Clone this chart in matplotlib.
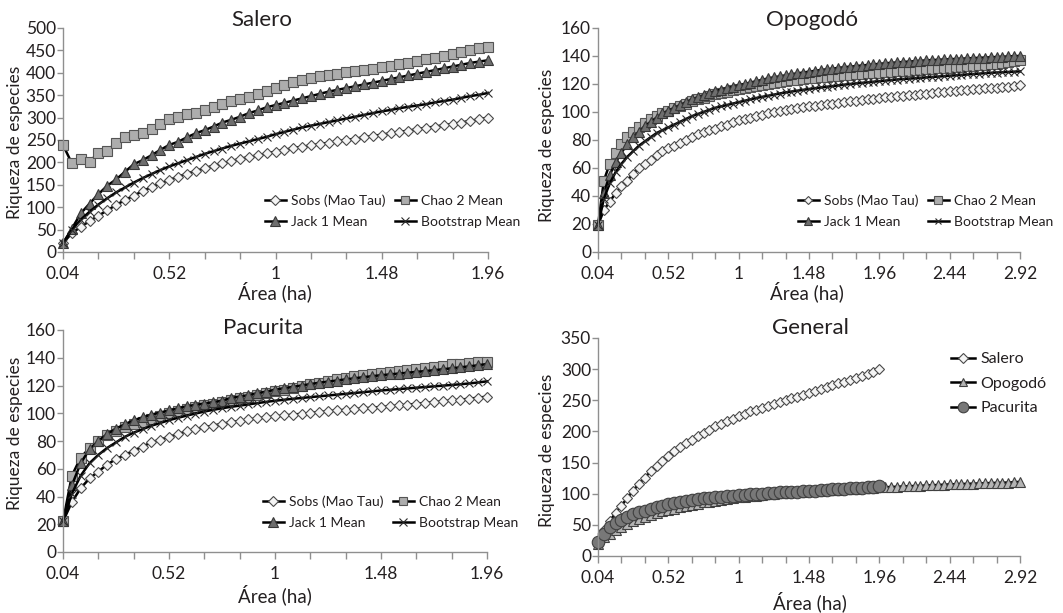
import numpy as np
import matplotlib
matplotlib.use("Agg")
import matplotlib.pyplot as plt

plt.rcParams['font.family'] = ['Lato', 'DejaVu Sans']
plt.rcParams['text.color'] = '#231f20'

# ---- data (species richness vs sampled area) ----
xlab_short = ["0.04", "0.52", "1", "1.48", "1.96"]
xlab_long = ["0.04", "0.52", "1", "1.48", "1.96", "2.44", "2.92"]

salero_sobs = [20, 42, 56, 69, 81, 93, 105, 116, 126, 136, 145, 153, 161, 168, 175, 181, 187,
               193, 198, 203, 208, 212, 216, 220, 224, 228, 232, 235, 238, 241, 244, 247, 250,
               253, 256, 259, 262, 265, 268, 271, 274, 277, 280, 283, 286, 289, 293, 296, 300]
salero_chao = [239, 198, 207, 201, 222, 226, 244, 256, 261, 266, 274, 285, 296, 302, 307, 311,
               317, 323, 330, 336, 341, 346, 352, 360, 367, 373, 379, 384, 389, 392, 395, 398,
               401, 404, 406, 408, 412, 415, 419, 422, 426, 430, 434, 438, 442, 447, 452, 455, 458]
salero_jack = [19, 52, 86, 108, 129, 148, 162, 179, 196, 205, 216, 228, 239, 246, 256, 265, 272,
               280, 289, 295, 302, 310, 316, 323, 328, 333, 338, 343, 348, 353, 358, 362, 366,
               370, 374, 378, 382, 386, 390, 394, 398, 402, 406, 410, 414, 418, 422, 425, 428]
salero_boot = [20, 50, 72, 90, 106, 120, 133, 144, 155, 165, 174, 183, 191, 198, 205, 212, 219,
               225, 231, 237, 242, 247, 252, 257, 263, 268, 273, 278, 282, 286, 290, 294, 298,
               302, 306, 310, 314, 317, 321, 324, 327, 330, 334, 337, 340, 344, 348, 351, 355]

opo_sobs = [19, 30, 36, 42, 47, 51, 56, 60, 63, 66, 69, 72, 74, 76, 78, 80, 82, 84, 86, 87,
            88, 90, 91, 93, 94, 95, 96, 97, 98, 99, 100, 101, 101.5, 102, 103, 103.5, 104,
            104.5, 105, 105.5, 106, 106.5, 107, 107.5, 108, 108.5, 109, 109.5, 110, 110.4,
            110.8, 111.2, 111.6, 112, 112.4, 112.8, 113.2, 113.6, 114, 114.5, 115, 115.3,
            115.6, 115.9, 116.2, 116.5, 116.8, 117.1, 117.4, 117.7, 118, 118.5, 119]
opo_chao = [19, 51, 63, 71, 77, 82, 86, 89, 92, 95, 97, 99, 101, 103, 104.5, 106, 107.5, 109,
            110, 111.5, 112.5, 113.5, 114.5, 115.5, 116.5, 117.3, 118, 118.8, 119.5, 120.2,
            120.8, 121.4, 122, 122.5, 123, 123.5, 124, 124.4, 124.8, 125.2, 125.6, 126, 126.3,
            126.6, 126.9, 127.2, 127.5, 127.8, 128.1, 128.4, 128.7, 129, 129.3, 129.6, 129.9,
            130.2, 130.5, 130.8, 131.1, 131.4, 131.7, 132, 132.3, 132.6, 132.9, 133.3, 133.7,
            134.1, 134.5, 135, 135.5, 136.2, 137]
opo_jack = [19, 42, 55, 64, 71, 77, 82, 86, 90, 93, 96, 99, 101, 103, 105, 107, 109, 110.5,
            112, 113.5, 115, 116, 117, 118, 119, 120, 121, 122, 123, 124, 124.8, 125.5, 126.2,
            127, 127.6, 128.2, 128.8, 129.4, 130, 130.5, 131, 131.5, 132, 132.4, 132.8, 133.2,
            133.6, 134, 134.4, 134.8, 135.1, 135.4, 135.7, 136, 136.3, 136.6, 136.9, 137.1,
            137.3, 137.5, 137.7, 137.9, 138.1, 138.3, 138.5, 138.7, 138.9, 139.1, 139.3, 139.5,
            139.7, 139.9, 140]
opo_boot = [19, 38, 49, 57, 63, 68, 72, 76, 79, 82, 85, 87, 89, 91, 93, 95, 97, 98.5, 100,
            101.5, 103, 104, 105, 106, 107, 108, 109, 110, 110.8, 111.6, 112.4, 113.2, 114,
            114.6, 115.2, 115.8, 116.4, 117, 117.5, 118, 118.5, 119, 119.5, 120, 120.4, 120.8,
            121.2, 121.6, 122, 122.4, 122.8, 123.2, 123.5, 123.8, 124.1, 124.4, 124.7, 125,
            125.3, 125.6, 125.9, 126.2, 126.5, 126.8, 127.1, 127.4, 127.7, 128, 128.2, 128.4,
            128.6, 128.8, 129]

pac_sobs = [22, 36, 46, 53, 58, 63, 67, 70, 73, 76, 79, 81, 83, 85, 87, 88.5, 90, 91, 92.5,
            93.5, 94.5, 95.5, 96.3, 97, 97.7, 98.4, 99, 99.6, 100.2, 100.8, 101.4, 102, 102.5,
            103, 103.5, 104, 104.5, 105, 105.6, 106.2, 106.8, 107.4, 108, 108.6, 109.2, 109.8,
            110.5, 111.2, 112]
pac_chao = [22, 55, 68, 75, 80, 84, 87, 90, 92, 94, 96, 98, 100, 101.5, 103, 104.5, 106, 107,
            108, 109.5, 111, 112, 113, 114.5, 116, 117, 118, 119.5, 121, 122, 123, 124.5, 125.5,
            126.5, 127.3, 128, 128.8, 129.6, 130.4, 131.2, 132, 132.8, 133.6, 134.4, 135.2,
            135.8, 136.3, 136.7, 137]
pac_jack = [22, 48, 64, 74, 80, 85, 89, 92, 95, 97, 99, 100.5, 102, 103.5, 105, 106, 107, 108,
            109, 111, 112, 113, 114.5, 115.5, 117, 118, 119, 120, 121, 122, 122.8, 123.6, 124.4,
            125.2, 126, 126.7, 127.4, 128, 128.6, 129.2, 129.8, 130.4, 131, 131.7, 132.4, 133.1,
            133.8, 134.6, 135.5]
pac_boot = [22, 42, 55, 64, 70, 75, 79, 83, 86, 88.5, 91, 93, 95, 96.7, 98.3, 99.8, 101.2,
            102.5, 103.6, 104.6, 105.5, 106.4, 107.3, 108.2, 109, 109.7, 110.4, 111, 111.6,
            112.2, 112.8, 113.4, 114, 114.6, 115.2, 115.8, 116.4, 116.9, 117.4, 117.9, 118.4,
            118.9, 119.4, 119.9, 120.4, 120.9, 121.5, 122.2, 123]

W, H = 1063, 613
fig = plt.figure(figsize=(W / 100, H / 100), dpi=100)


def px(x, y):
    return x / W, 1 - y / H


def make_ax(l, t, r, b):
    return fig.add_axes([l / W, 1 - b / H, (r - l) / W, (b - t) / H])


def style(ax, n, ymax, ystep, labels):
    ax.set_xlim(0, n - 1)
    ax.set_ylim(0, ymax)
    ax.set_yticks(np.arange(0, ymax + 1, ystep))
    ticks = np.arange(0, n, 4)
    ax.set_xticks(ticks)
    ax.set_xticklabels([labels[t // 12] if t % 12 == 0 else "" for t in ticks])
    for s in ("top", "right"):
        ax.spines[s].set_visible(False)
    for s in ("left", "bottom"):
        ax.spines[s].set_color("#8f8f8f")
        ax.spines[s].set_linewidth(1.0)
    ax.tick_params(axis="x", direction="out", length=5, width=1, color="#8f8f8f",
                   labelsize=12.5, pad=5, labelcolor="#231f20")
    ax.tick_params(axis="y", direction="out", length=4, width=1, color="#8f8f8f",
                   labelsize=12.5, pad=1, labelcolor="#231f20")
    ax.patch.set_alpha(0)


def four_series(ax, sobs, chao, jack, boot, scale=1.0):
    x = np.arange(len(sobs))
    kw = dict(color="black", lw=1.8, clip_on=False)
    ax.plot(x, sobs, marker="D", ms=5.4 * scale, mfc="#f4f4f4", mec="#4a4a4a", mew=0.8,
            label="Sobs (Mao Tau)", **kw)
    ax.plot(x, chao, marker="s", ms=7.4 * scale, mfc="#adadad", mec="#555555", mew=0.8,
            label="Chao 2 Mean", **kw)
    ax.plot(x, jack, marker="^", ms=7.8 * scale, mfc="#6e6e6e", mec="#383838", mew=0.8,
            label="Jack 1 Mean", **kw)
    ax.plot(x, boot, marker="x", ms=6.2 * scale, mec="#2b2b2b", mew=0.8,
            label="Bootstrap Mean", **kw)
    h, l = ax.get_legend_handles_labels()
    return [h[0], h[2], h[1], h[3]], [l[0], l[2], l[1], l[3]]


def add_legend(ax, handles, labels, x, y, ncol=2, fs=10):
    ax.legend(handles, labels, ncol=ncol, loc="upper left", bbox_to_anchor=px(x, y),
              bbox_transform=fig.transFigure, frameon=False, fontsize=fs, borderpad=0,
              handlelength=1.5, handletextpad=0.35, columnspacing=0.7, labelspacing=0.65,
              borderaxespad=0, markerscale=0.85)


def labels(title, tx, ty, xlx, xly, ylx, yly):
    fig.text(*px(tx, ty), title, ha="center", va="center", fontsize=16)
    fig.text(*px(xlx, xly), "Área (ha)", ha="center", va="center", fontsize=13.5)
    fig.text(*px(ylx, yly), "Riqueza de especies", ha="center", va="center",
             rotation=90, fontsize=12.5)


# Salero
ax1 = make_ax(63, 28, 488, 252)
h, l = four_series(ax1, salero_sobs, salero_chao, salero_jack, salero_boot)
style(ax1, len(salero_sobs), 500, 50, xlab_short)
add_legend(ax1, h, l, 265, 194)
labels("Salero", 262, 20, 275, 292, 15, 142)

# Opogodó
ax2 = make_ax(598, 28, 1020, 252)
h, l = four_series(ax2, opo_sobs, opo_chao, opo_jack, opo_boot, scale=0.9)
style(ax2, len(opo_sobs), 160, 20, xlab_long)
add_legend(ax2, h, l, 798, 194)
labels("Opogodó", 812, 20, 807, 292, 547, 145)

# Pacurita
ax3 = make_ax(63, 330, 487, 552)
h, l = four_series(ax3, pac_sobs, pac_chao, pac_jack, pac_boot)
style(ax3, len(pac_sobs), 160, 20, xlab_short)
add_legend(ax3, h, l, 263, 495)
labels("Pacurita", 263, 328, 275, 595, 15, 433)

# General
ax4 = make_ax(598, 338, 1020, 556)
kw = dict(color="black", lw=1.8, clip_on=False)
ax4.plot(np.arange(len(salero_sobs)), salero_sobs, marker="D", ms=5.6, mfc="#f4f4f4",
         mec="#4a4a4a", mew=0.8, label="Salero", **kw)
ax4.plot(np.arange(len(opo_sobs)), opo_sobs, marker="^", ms=7.5, mfc="#b4b4b4",
         mec="#404040", mew=0.8, label="Opogodó", **kw)
ax4.plot(np.arange(len(pac_sobs)), pac_sobs, marker="o", ms=9, mfc="#787878",
         mec="#404040", mew=0.8, label="Pacurita", **kw)
style(ax4, len(opo_sobs), 350, 50, xlab_long)
h, l = ax4.get_legend_handles_labels()
add_legend(ax4, h, l, 951, 352, ncol=1, fs=11.5)
labels("General", 810, 328, 810, 602, 547, 450)

fig.savefig("out.png", dpi=100)
